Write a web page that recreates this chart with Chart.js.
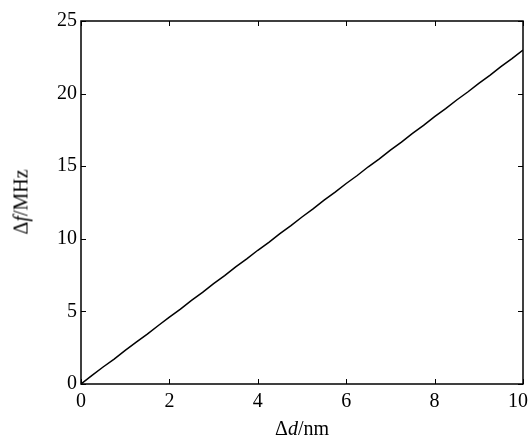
<!DOCTYPE html>
<html>
<head>
<meta charset="utf-8">
<script src="https://cdn.jsdelivr.net/npm/chart.js@4"></script>
<style>
  html, body { margin: 0; padding: 0; background: #fff; }
  #wrap { position: relative; width: 530px; height: 442px; }
  .axtitle { position: absolute; font-family: "Liberation Serif", serif; font-size: 20px; color: #000; white-space: nowrap; }
  #xtitle { left: 302px; top: 428px; transform: translate(-50%, -50%); }
  #ytitle { left: 21px; top: 202px; transform: translate(-50%, -50%) rotate(-90deg); }
</style>
</head>
<body>
<div id="wrap">
  <canvas id="chart" width="530" height="442"></canvas>
  <div class="axtitle" id="xtitle">Δ<i>d</i>/nm</div>
  <div class="axtitle" id="ytitle">Δ<i>f</i>/MHz</div>
</div>
<script>
// displacement (nm) and frequency shift (MHz)
const dValues = [0, 0.25, 0.5, 0.75, 1, 1.25, 1.5, 1.75, 2, 2.25, 2.5, 2.75, 3, 3.25, 3.5, 3.75, 4, 4.25, 4.5, 4.75,
                 5, 5.25, 5.5, 5.75, 6, 6.25, 6.5, 6.75, 7, 7.25, 7.5, 7.75, 8, 8.25, 8.5, 8.75, 9, 9.25, 9.5, 9.75, 10];
const fValues = [0, 0.60, 1.17, 1.72, 2.31, 2.88, 3.43, 4.03, 4.60, 5.16, 5.76, 6.31, 6.91, 7.47, 8.07, 8.62, 9.21, 9.76, 10.36, 10.91,
                 11.50, 12.06, 12.66, 13.21, 13.81, 14.36, 14.96, 15.51, 16.11, 16.66, 17.26, 17.81, 18.41, 18.96, 19.56, 20.11, 20.71, 21.26, 21.86, 22.41, 23.00];
const xTicks = [0, 2, 4, 6, 8, 10];
const yTicks = [0, 5, 10, 15, 20, 25];

const points = dValues.map((d, i) => ({ x: d, y: fValues[i] }));

// frame + inward ticks on all four sides
const frameTicks = {
    id: 'frameTicks',
    afterDraw(chart) {
        const { ctx, chartArea: a, scales } = chart;
        const len = 5;
        ctx.save();
        ctx.strokeStyle = '#000';
        ctx.lineWidth = 1.5;
        ctx.strokeRect(a.left, a.top, a.right - a.left, a.bottom - a.top);
        ctx.lineWidth = 1;
        ctx.beginPath();
        xTicks.forEach(v => {
            const px = Math.round(scales.x.getPixelForValue(v)) + 0.5;
            ctx.moveTo(px, a.bottom); ctx.lineTo(px, a.bottom - len);
            ctx.moveTo(px, a.top); ctx.lineTo(px, a.top + len);
        });
        yTicks.forEach(v => {
            const py = Math.round(scales.y.getPixelForValue(v)) + 0.5;
            ctx.moveTo(a.left, py); ctx.lineTo(a.left + len, py);
            ctx.moveTo(a.right, py); ctx.lineTo(a.right - len, py);
        });
        ctx.stroke();
        ctx.restore();
    }
};

const tickFont = { family: '"Liberation Serif", serif', size: 20 };

new Chart(document.getElementById('chart'), {
    type: 'scatter',
    data: {
        datasets: [{
            data: points,
            showLine: true,
            borderColor: '#000',
            borderWidth: 1.5,
            pointRadius: 0,
            tension: 0
        }]
    },
    options: {
        responsive: false,
        animation: false,
        layout: { padding: { left: 0, top: 21, right: 7, bottom: 0 } },
        plugins: { legend: { display: false }, tooltip: { enabled: false } },
        scales: {
            x: {
                type: 'linear',
                min: 0, max: 10,
                afterBuildTicks: s => { s.ticks = xTicks.map(v => ({ value: v })); },
                afterFit: s => { s.height = 58; s.paddingLeft = 0; s.paddingRight = 0; },
                grid: { display: false, drawTicks: false },
                border: { display: false },
                // last label sits inside the canvas edge, as in the original
                ticks: { color: '#000', font: tickFont, padding: 6, maxRotation: 0,
                         callback: v => v === 10 ? '10\u2002' : String(v) }
            },
            y: {
                type: 'linear',
                min: 0, max: 25,
                afterBuildTicks: s => { s.ticks = yTicks.map(v => ({ value: v })); },
                afterFit: s => { s.width = 81; s.paddingTop = 0; s.paddingBottom = 0; },
                grid: { display: false, drawTicks: false },
                border: { display: false },
                ticks: { color: '#000', font: tickFont, padding: 4 }
            }
        }
    },
    plugins: [frameTicks]
});
</script>
</body>
</html>
